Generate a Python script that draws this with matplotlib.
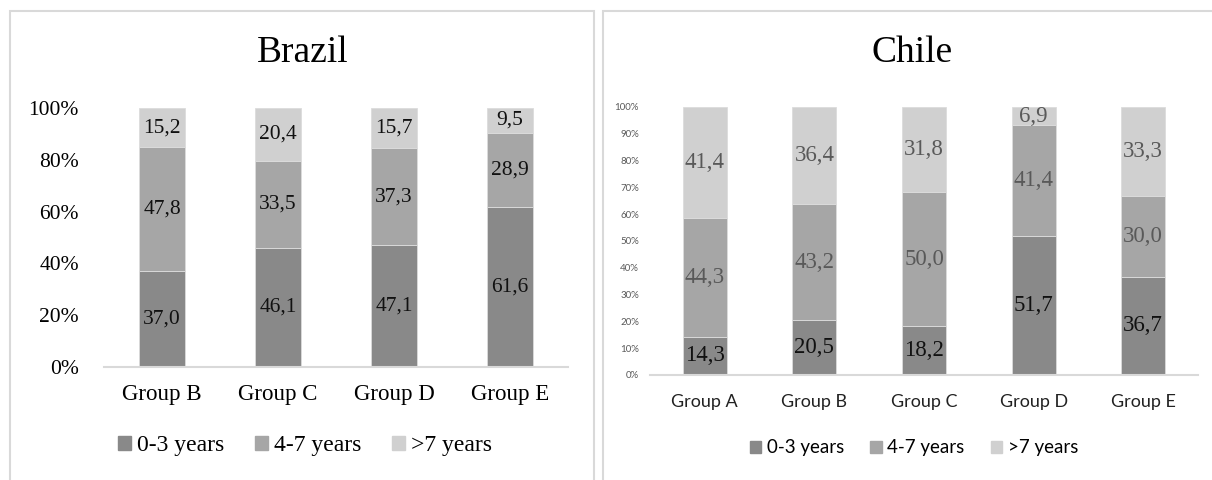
import numpy as np
import matplotlib
matplotlib.use('Agg')
import matplotlib.pyplot as plt
from matplotlib.patches import Rectangle, Patch

# percentage of firms by years of experience, per group
brazil_groups = ['Group B', 'Group C', 'Group D', 'Group E']
brazil_0_3 = [37.0, 46.1, 47.1, 61.6]
brazil_4_7 = [47.8, 33.5, 37.3, 28.9]
brazil_7p = [15.2, 20.4, 15.7, 9.5]

chile_groups = ['Group A', 'Group B', 'Group C', 'Group D', 'Group E']
chile_0_3 = [14.3, 20.5, 18.2, 51.7, 36.7]
chile_4_7 = [44.3, 43.2, 50.0, 41.4, 30.0]
chile_7p = [41.4, 36.4, 31.8, 6.9, 33.3]

series_names = ['0-3 years', '4-7 years', '>7 years']
colors = ['#898989', '#a6a6a6', '#d0d0d0']

SERIF = ['Liberation Serif', 'DejaVu Serif']
SANS = ['Lato', 'DejaVu Sans']

fig = plt.figure(figsize=(12.12, 4.8), dpi=100)
W, H = 1212.0, 480.0

# panel frames
for x0, x1 in [(10, 594), (603, 1230)]:
    fig.add_artist(Rectangle((x0 / W, -0.1), (x1 - x0) / W, (H - 11) / H + 0.1,
                             transform=fig.transFigure, fill=False,
                             edgecolor='#d9d9d9', linewidth=1.5))


def stacked(ax, groups, series, label_colors, label_size):
    x = np.arange(len(groups))
    bottom = np.zeros(len(groups))
    for vals, col, lc in zip(series, colors, label_colors):
        vals = np.array(vals)
        ax.bar(x, vals, 0.40, bottom=bottom, color=col, edgecolor='#dcdcdc', linewidth=0.6)
        for xi, b, v in zip(x, bottom, vals):
            ax.text(xi, b + v / 2, f'{v:.1f}'.replace('.', ','), ha='center', va='center',
                    fontsize=label_size, family=SERIF, color=lc)
        bottom += vals
    ax.set_xlim(-0.5, len(groups) - 0.5)
    ax.set_ylim(0, 100)
    for s in ['top', 'right', 'left']:
        ax.spines[s].set_visible(False)
    ax.spines['bottom'].set_color('#d9d9d9')
    ax.spines['bottom'].set_linewidth(1.5)
    ax.tick_params(length=0)
    ax.set_xticks(x)
    ax.set_xticklabels(groups)


# Brazil
ax1 = fig.add_axes([104 / W, 113 / H, 464 / W, 259 / H])
stacked(ax1, brazil_groups, [brazil_0_3, brazil_4_7, brazil_7p],
        ['#111111', '#111111', '#111111'], 15.5)
ax1.set_yticks(np.arange(0, 101, 20))
ax1.set_yticklabels([f'{v}%' for v in range(0, 101, 20)], fontsize=15.5, family=SERIF)
ax1.tick_params(axis='y', pad=18)
ax1.tick_params(axis='x', pad=12)
for t in ax1.get_xticklabels():
    t.set_fontsize(16.5)
    t.set_family(SERIF)
fig.text(303 / W, 1 - 53 / H, 'Brazil', ha='center', va='center', fontsize=27, family=SERIF)
handles = [Patch(color=c, label=n) for c, n in zip(colors, series_names)]
fig.legend(handles=handles, loc='center', bbox_to_anchor=(305 / W, 1 - 446 / H), ncol=3,
           frameon=False, prop={'family': SERIF, 'size': 17}, handlelength=0.55,
           handleheight=0.55, handletextpad=0.25, columnspacing=1.3)

# Chile
ax2 = fig.add_axes([650 / W, 105 / H, 548 / W, 268 / H])
stacked(ax2, chile_groups, [chile_0_3, chile_4_7, chile_7p],
        ['#111111', '#595959', '#595959'], 16.5)
ax2.set_yticks(np.arange(0, 101, 10))
ax2.set_yticklabels([f'{v}%' for v in range(0, 101, 10)], fontsize=7, family=SANS,
                    color='#595959')
ax2.tick_params(axis='y', pad=8)
ax2.tick_params(axis='x', pad=14)
for t in ax2.get_xticklabels():
    t.set_fontsize(13)
    t.set_family(SANS)
    t.set_color('#222222')
fig.text(912 / W, 1 - 53 / H, 'Chile', ha='center', va='center', fontsize=27, family=SERIF)
fig.legend(handles=handles, loc='center', bbox_to_anchor=(914 / W, 1 - 448 / H), ncol=3,
           frameon=False, prop={'family': SANS, 'size': 13.5}, handlelength=0.6,
           handleheight=0.6, handletextpad=0.3, columnspacing=1.4)

fig.savefig('out.png', dpi=100)
